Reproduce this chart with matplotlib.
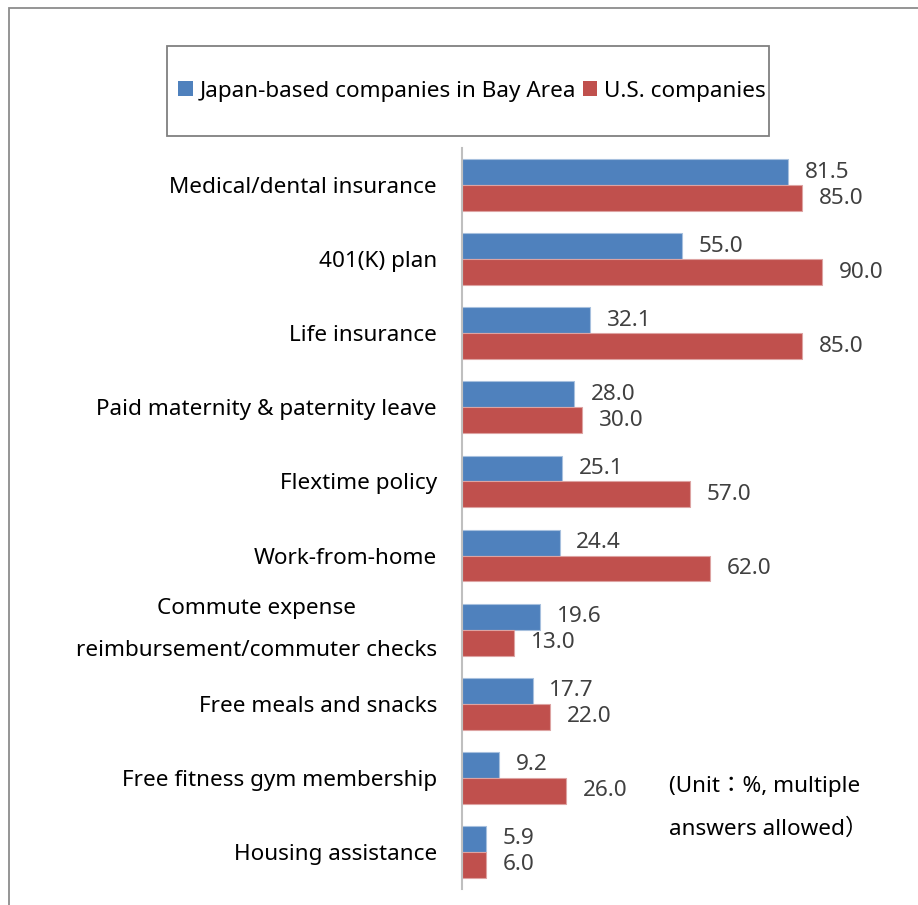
import matplotlib
matplotlib.use("Agg")
import matplotlib.pyplot as plt
from matplotlib.patches import Rectangle, Patch
import numpy as np

plt.rcParams['font.family'] = ['Noto Sans', 'Noto Sans CJK JP', 'DejaVu Sans']

categories = [
    "Medical/dental insurance",
    "401(K) plan",
    "Life insurance",
    "Paid maternity & paternity leave",
    "Flextime policy",
    "Work-from-home",
    "Commute expense\nreimbursement/commuter checks",
    "Free meals and snacks",
    "Free fitness gym membership",
    "Housing assistance",
]
japan_values = [81.5, 55.0, 32.1, 28.0, 25.1, 24.4, 19.6, 17.7, 9.2, 5.9]
us_values = [85.0, 90.0, 85.0, 30.0, 57.0, 62.0, 13.0, 22.0, 26.0, 6.0]
series_names = ["Japan-based companies in Bay Area", "U.S. companies"]
note_text = "(Unit\uff1a%, multiple\nanswers allowed\uff09"

blue = "#4F81BD"
red = "#C0504D"
FS = 16.2

W, H = 918, 905
fig = plt.figure(figsize=(W / 100, H / 100), dpi=100)

ax = fig.add_axes([462 / W, (H - 889) / H, 400 / W, (889 - 148) / H])
y = np.arange(len(categories))
bh = 0.35
ax.barh(y - bh / 2, japan_values, height=bh, color=blue, edgecolor="#A7C0DE", linewidth=0.8)
ax.barh(y + bh / 2, us_values, height=bh, color=red, edgecolor="#DDA3A2", linewidth=0.8)
ax.set_xlim(0, 100)
ax.set_ylim(len(categories) - 0.5, -0.5)

for s in ["top", "right", "bottom"]:
    ax.spines[s].set_visible(False)
ax.spines["left"].set_color("#BFBFBF")
ax.spines["left"].set_linewidth(1.5)
ax.set_xticks([])
ax.set_yticks(y)
ax.set_yticklabels(categories, fontsize=FS, color="#000000")
for t in ax.get_yticklabels():
    if "\n" in t.get_text():
        t.set_multialignment("center")
        t.set_linespacing(2.35)
        t.set_verticalalignment("center")
ax.tick_params(axis="y", length=0, pad=18)

for i, (a, b) in enumerate(zip(japan_values, us_values)):
    ax.annotate(f"{a:.1f}", (a, i - bh / 2), xytext=(12, 0), textcoords="offset points",
                va="center", ha="left", fontsize=FS, color="#404040")
    ax.annotate(f"{b:.1f}", (b, i + bh / 2), xytext=(12, 0), textcoords="offset points",
                va="center", ha="left", fontsize=FS, color="#404040")

fig.text(669 / W, 1 - 808 / H, note_text, ha="left", va="center", fontsize=FS,
         color="#000000", linespacing=2.3)

# legend
handles = [Patch(facecolor=blue), Patch(facecolor=red)]
fig.legend(handles, series_names, loc="center", bbox_to_anchor=(472 / W, 1 - 91 / H),
           ncol=2, frameon=False, fontsize=FS, handlelength=0.65, handleheight=0.65,
           handletextpad=0.3, columnspacing=0.3)
fig.patches.append(Rectangle((167 / W, 1 - 136 / H), (769 - 167) / W, (136 - 46) / H,
                             transform=fig.transFigure, fill=False, edgecolor="#808080",
                             linewidth=1.3))
# outer frame (left and top visible)
fig.patches.append(Rectangle((8.5 / W, -0.1), 1.2, 1 - 8.5 / H + 0.1,
                             transform=fig.transFigure, fill=False, edgecolor="#8C8C8C",
                             linewidth=1.3))

fig.savefig("out.png", dpi=100)
